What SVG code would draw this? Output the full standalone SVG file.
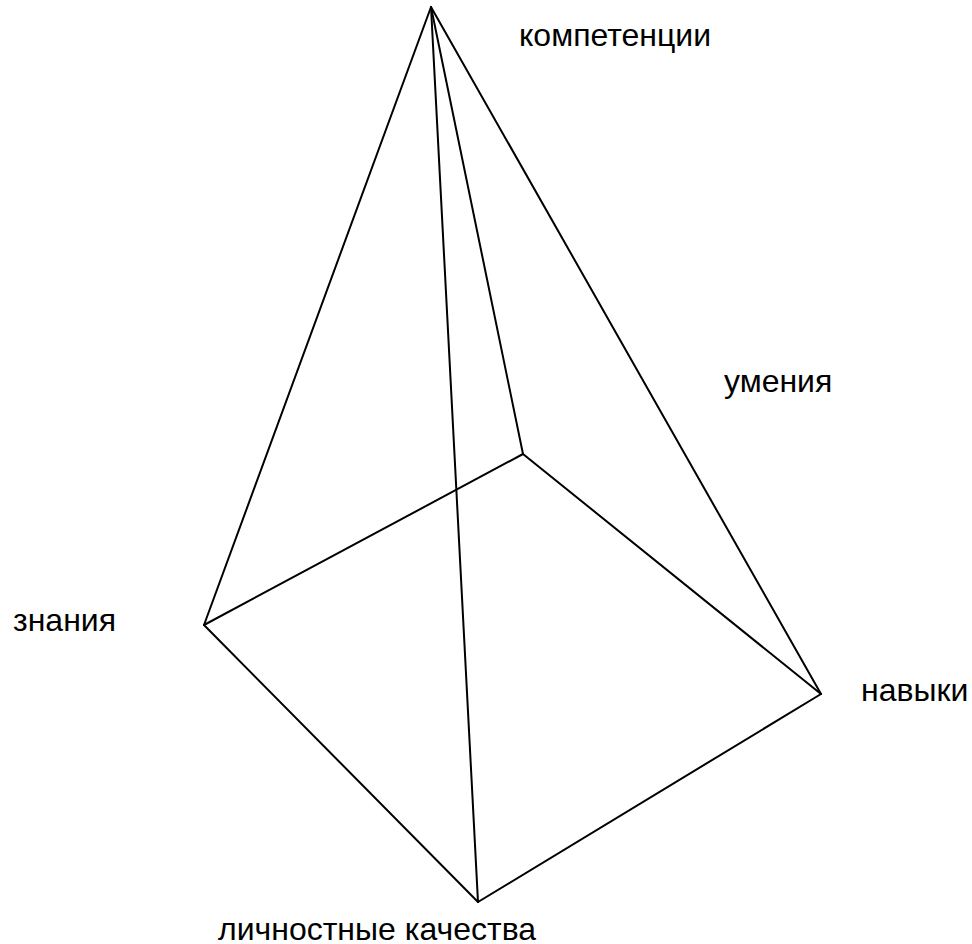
<svg xmlns="http://www.w3.org/2000/svg" width="972" height="944" viewBox="0 0 972 944">
<style>
.e{stroke:#000;stroke-width:2;fill:none;stroke-linecap:round}
text{font-family:"Liberation Sans",Arial,sans-serif;font-size:32px;fill:#000}
</style>
<rect width="972" height="944" fill="#fff"/>
<g id="connectors">
<line class="e" x1="431" y1="7" x2="204" y2="625"/>
<line class="e" x1="431" y1="7" x2="478" y2="902"/>
<line class="e" x1="431" y1="7" x2="523" y2="454"/>
<line class="e" x1="431" y1="7" x2="821" y2="694"/>
<line class="e" x1="204" y1="625" x2="523" y2="454"/>
<line class="e" x1="523" y1="454" x2="821" y2="694"/>
<line class="e" x1="821" y1="694" x2="478" y2="902"/>
<line class="e" x1="478" y1="902" x2="204" y2="625"/>
</g>
<g id="apex"><text x="519" y="46">компетенции</text></g>
<g id="skills"><text x="724" y="392">умения</text></g>
<g id="knowledge"><text x="13" y="631">знания</text></g>
<g id="abilities"><text x="861" y="701">навыки</text></g>
<g id="qualities"><text x="218" y="940">личностные качества</text></g>
</svg>
